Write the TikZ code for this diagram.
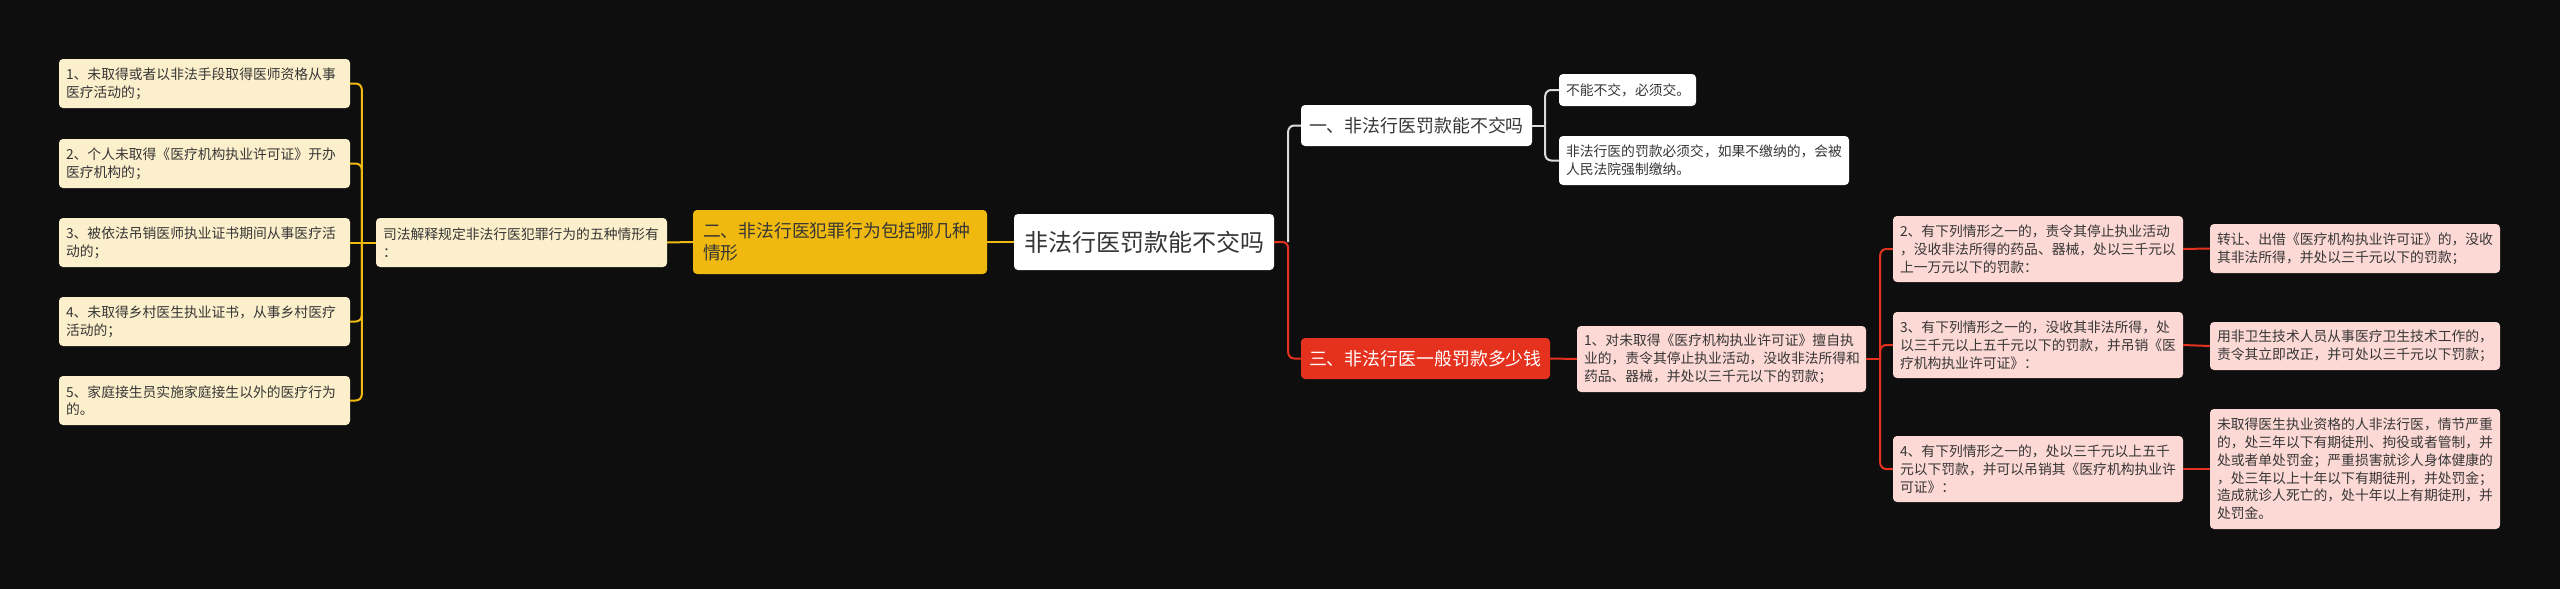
\documentclass[tikz,border=0pt]{standalone}
\usepackage{fontspec}
\newfontfamily\cjk{Noto Sans CJK SC}
\definecolor{bg}{HTML}{0E0E0E}
\definecolor{ylw}{HTML}{EFB90F}
\definecolor{cream}{HTML}{FCEFCB}
\definecolor{redc}{HTML}{E5321F}
\definecolor{pink}{HTML}{FDD9D5}
\definecolor{grayl}{HTML}{DCDCDC}
\definecolor{txt}{HTML}{363636}
\tikzset{
  bx/.style={rounded corners=4pt, inner xsep=7pt, inner ysep=0pt, align=left, anchor=center, text=txt},
  small/.style={font=\cjk\fontsize{13.8}{17.8}\selectfont},
  leafy/.style={bx, small, fill=cream},
  leafr/.style={bx, small, fill=pink},
  leafw/.style={bx, small, fill=white},
  yl/.style={draw=ylw, line width=2pt, rounded corners=6pt},
  rl/.style={draw=redc, line width=2pt, rounded corners=6pt},
  gl/.style={draw=grayl, line width=2pt, rounded corners=6pt}
}
\begin{document}
\begin{tikzpicture}[x=1pt,y=-1pt]
\useasboundingbox (0,0) rectangle (2560,589);
\fill[bg] (0,0) rectangle (2560,589);
% root
\node[bx, fill=white, inner xsep=0pt, minimum width=260pt, minimum height=56pt, align=center, font=\cjk\fontsize{24}{30}\selectfont] (root) at (1144,242) {非法行医罚款能不交吗};
% left main branch
\node[bx, fill=ylw, inner xsep=10pt, text width=274pt, minimum height=64pt, font=\cjk\fontsize{17.8}{21.7}\selectfont] (n2) at (840,242) {二、非法行医犯罪行为包括哪几种\\情形};
\node[leafy, text width=277pt, minimum height=49pt] (mid) at (521.5,242.5) {司法解释规定非法行医犯罪行为的五种情形有\\：};
\node[leafy, text width=277pt, minimum height=49pt] (L1) at (204.5,83.5) {1、未取得或者以非法手段取得医师资格从事\\医疗活动的；};
\node[leafy, text width=277pt, minimum height=49pt] (L2) at (204.5,163.5) {2、个人未取得《医疗机构执业许可证》开办\\医疗机构的；};
\node[leafy, text width=277pt, minimum height=49pt] (L3) at (204.5,242.5) {3、被依法吊销医师执业证书期间从事医疗活\\动的；};
\node[leafy, text width=277pt, minimum height=49pt] (L4) at (204.5,321.5) {4、未取得乡村医生执业证书，从事乡村医疗\\活动的；};
\node[leafy, text width=277pt, minimum height=49pt] (L5) at (204.5,400.5) {5、家庭接生员实施家庭接生以外的医疗行为\\的。};
% right branch one
\node[bx, fill=white, inner xsep=8pt, text width=215pt, minimum height=41pt, font=\cjk\fontsize{17.9}{21}\selectfont] (n1) at (1416.5,125.5) {一、非法行医罚款能不交吗};
\node[leafw, text width=123pt, minimum height=32pt] (A1) at (1627.5,90) {不能不交，必须交。};
\node[leafw, text width=276pt, minimum height=49pt] (A2) at (1704,160.5) {非法行医的罚款必须交，如果不缴纳的，会被\\人民法院强制缴纳。};
% right branch three
\node[bx, fill=redc, text=white, inner xsep=8pt, text width=233pt, minimum height=41pt, font=\cjk\fontsize{17.9}{21}\selectfont] (n3) at (1425.5,358.5) {三、非法行医一般罚款多少钱};
\node[leafr, text width=275pt, minimum height=66pt] (B1) at (1721.5,359) {1、对未取得《医疗机构执业许可证》擅自执\\业的，责令其停止执业活动，没收非法所得和\\药品、器械，并处以三千元以下的罚款；};
\node[leafr, text width=276pt, minimum height=66pt] (B2) at (2038,249) {2、有下列情形之一的，责令其停止执业活动\\，没收非法所得的药品、器械，处以三千元以\\上一万元以下的罚款：};
\node[leafr, text width=276pt, minimum height=66pt] (B3) at (2038,345) {3、有下列情形之一的，没收其非法所得，处\\以三千元以上五千元以下的罚款，并吊销《医\\疗机构执业许可证》：};
\node[leafr, text width=276pt, minimum height=66pt] (B4) at (2038,469) {4、有下列情形之一的，处以三千元以上五千\\元以下罚款，并可以吊销其《医疗机构执业许\\可证》：};
\node[leafr, text width=276pt, minimum height=49pt] (C2) at (2355,248.5) {转让、出借《医疗机构执业许可证》的，没收\\其非法所得，并处以三千元以下的罚款；};
\node[leafr, text width=276pt, minimum height=48pt] (C3) at (2355,346) {用非卫生技术人员从事医疗卫生技术工作的，\\责令其立即改正，并可处以三千元以下罚款；};
\node[leafr, text width=276pt, minimum height=120pt] (C4) at (2355,469) {未取得医生执业资格的人非法行医，情节严重\\的，处三年以下有期徒刑、拘役或者管制，并\\处或者单处罚金；严重损害就诊人身体健康的\\，处三年以上十年以下有期徒刑，并处罚金；\\造成就诊人死亡的，处十年以上有期徒刑，并\\处罚金。};
% junction coordinates
\path (mid.west) ++(-14,0) coordinate (jm);
\path (root.east) ++(14,0) coordinate (jr);
\path (n1.east) ++(13,0) coordinate (ja);
\path (B1.east) ++(14,0) coordinate (jb);
% left connectors
\draw[yl] (root.west) -- (n2.east);
\draw[yl] (n2.west) -- (mid.east);
\draw[yl] (mid.west) -- (jm);
\draw[yl] (jm) |- (L1.east);
\draw[yl] (jm) |- (L2.east);
\draw[yl] (jm) -- (L3.east);
\draw[yl] (jm) |- (L4.east);
\draw[yl] (jm) |- (L5.east);
% right connectors
\draw[gl] (jr) |- (n1.west);
\draw[gl] (n1.east) -- (ja);
\draw[gl] (ja) |- (A1.west);
\draw[gl] (ja) |- (A2.west);
\draw[rl] (root.east) -- (jr) |- (n3.west);
\draw[rl] (n3.east) -- (B1.west);
\draw[rl] (B1.east) -- (jb);
\draw[rl] (jb) |- (B2.west);
\draw[rl] (jb) |- (B3.west);
\draw[rl] (jb) |- (B4.west);
\draw[rl] (B2.east) -- (C2.west);
\draw[rl] (B3.east) -- (C3.west);
\draw[rl] (B4.east) -- (C4.west);
\end{tikzpicture}
\end{document}
